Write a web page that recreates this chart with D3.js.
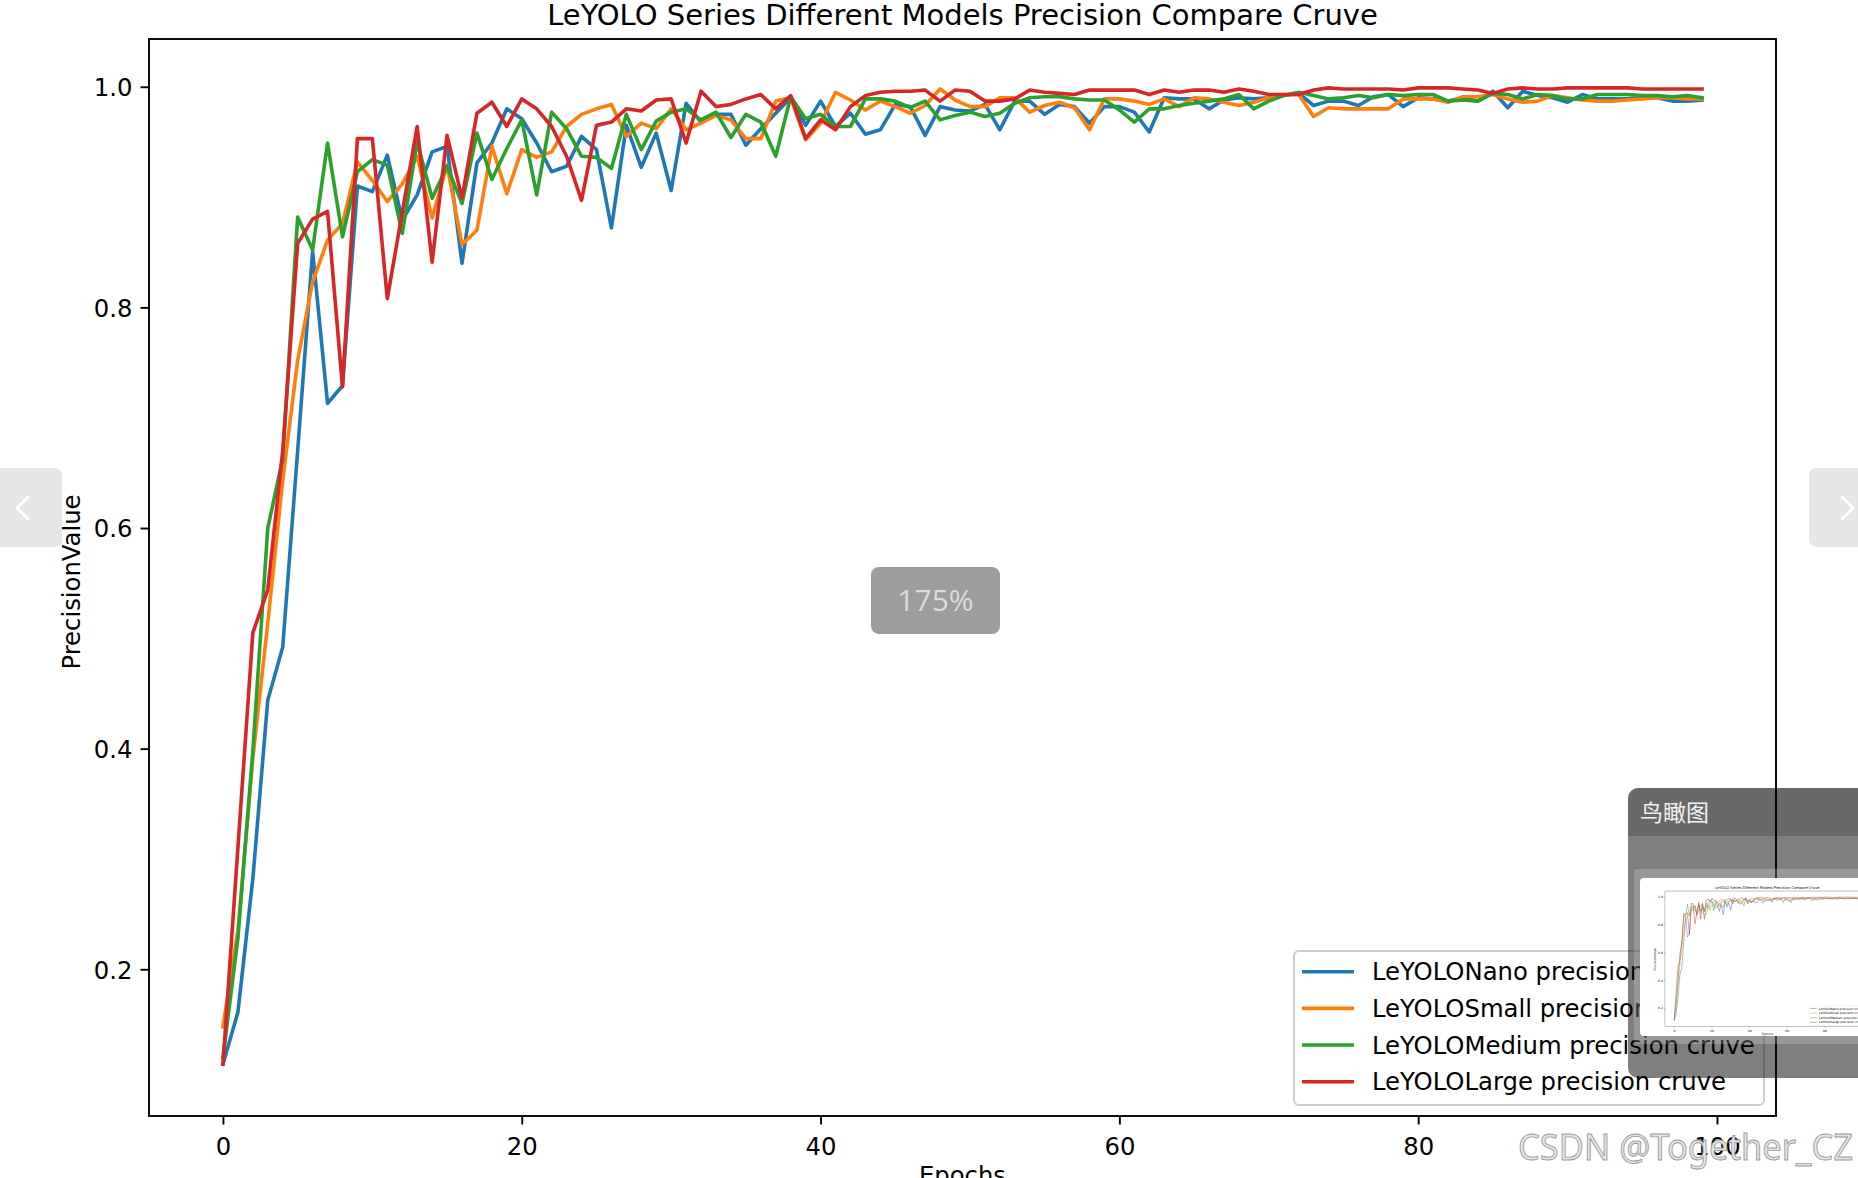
<!DOCTYPE html>
<html><head><meta charset="utf-8">
<script src="https://cdn.jsdelivr.net/npm/d3@7"></script>
<style>html,body{margin:0;padding:0;background:#fff;overflow:hidden}svg{display:block}</style>
</head><body>
<svg id="c" width="1858" height="1178"></svg>
<script>
// ---------------- data ----------------
const titleText = "LeYOLO Series Different Models Precision Compare Cruve";
const xLabelText = "Epochs";
const yLabelText = "PrecisionValue";
const seriesNames = [
  "LeYOLONano precision cruve",
  "LeYOLOSmall precision cruve",
  "LeYOLOMedium precision cruve",
  "LeYOLOLarge precision cruve"
];
const seriesColors = ["#1f77b4", "#ff7f0e", "#2ca02c", "#d62728"];
const xTicks = [0, 20, 40, 60, 80, 100];
const yTicks = [0.2, 0.4, 0.6, 0.8, 1.0];
const yTickLabels = ["0.2", "0.4", "0.6", "0.8", "1.0"];

const nanoPrecision = [0.114,0.161,0.282,0.444,0.492,0.670,0.851,0.713,0.729,0.910,
  0.905,0.938,0.879,0.902,0.941,0.946,0.840,0.931,0.949,0.980,
  0.971,0.949,0.923,0.928,0.955,0.943,0.872,0.965,0.927,0.958,
  0.906,0.985,0.968,0.975,0.975,0.947,0.962,0.976,0.990,0.965,
  0.987,0.964,0.976,0.957,0.961,0.984,0.982,0.956,0.982,0.979,
  0.978,0.984,0.961,0.987,0.987,0.975,0.984,0.982,0.967,0.982,
  0.982,0.977,0.959,0.990,0.989,0.989,0.980,0.988,0.990,0.989,
  0.990,0.992,0.994,0.983,0.987,0.987,0.983,0.991,0.993,0.982,
  0.990,0.989,0.987,0.990,0.987,0.996,0.981,0.996,0.992,0.990,
  0.986,0.993,0.989,0.989,0.989,0.990,0.990,0.987,0.987,0.988];
const smallPrecision = [0.148,0.235,0.391,0.514,0.643,0.752,0.823,0.861,0.876,0.932,
  0.915,0.896,0.912,0.937,0.881,0.929,0.857,0.870,0.946,0.903,
  0.943,0.936,0.941,0.964,0.975,0.980,0.984,0.955,0.967,0.962,
  0.980,0.961,0.967,0.974,0.970,0.953,0.953,0.987,0.990,0.952,
  0.967,0.995,0.988,0.979,0.987,0.982,0.976,0.983,0.998,0.988,
  0.982,0.982,0.990,0.990,0.977,0.983,0.986,0.981,0.961,0.989,
  0.989,0.987,0.984,0.989,0.982,0.990,0.989,0.986,0.983,0.986,
  0.990,0.993,0.993,0.973,0.981,0.980,0.980,0.980,0.980,0.989,
  0.989,0.989,0.986,0.991,0.991,0.993,0.989,0.986,0.987,0.992,
  0.990,0.988,0.987,0.987,0.988,0.989,0.990,0.990,0.989,0.989];
const mediumPrecision = [0.120,0.228,0.398,0.600,0.663,0.882,0.852,0.949,0.864,0.923,
  0.934,0.929,0.867,0.950,0.899,0.928,0.894,0.958,0.916,0.944,
  0.970,0.902,0.977,0.962,0.937,0.936,0.926,0.975,0.943,0.969,
  0.977,0.980,0.970,0.977,0.954,0.975,0.968,0.937,0.991,0.971,
  0.975,0.964,0.964,0.989,0.989,0.987,0.981,0.987,0.970,0.974,
  0.977,0.973,0.976,0.985,0.990,0.991,0.991,0.989,0.988,0.988,
  0.979,0.968,0.980,0.980,0.983,0.985,0.987,0.989,0.993,0.980,
  0.987,0.992,0.995,0.992,0.989,0.990,0.992,0.990,0.993,0.992,
  0.993,0.993,0.987,0.988,0.987,0.994,0.993,0.989,0.993,0.992,
  0.989,0.989,0.993,0.993,0.993,0.992,0.992,0.991,0.992,0.990];
const largePrecision = [0.114,0.310,0.505,0.544,0.670,0.858,0.880,0.887,0.728,0.953,
  0.953,0.808,0.886,0.964,0.841,0.956,0.899,0.976,0.986,0.964,
  0.989,0.980,0.964,0.937,0.897,0.965,0.968,0.980,0.978,0.988,
  0.989,0.949,0.996,0.982,0.984,0.989,0.993,0.980,0.992,0.953,
  0.970,0.961,0.982,0.992,0.995,0.996,0.996,0.997,0.987,0.997,
  0.996,0.987,0.987,0.989,0.997,0.995,0.994,0.993,0.997,0.997,
  0.997,0.997,0.993,0.997,0.995,0.997,0.997,0.995,0.998,0.996,
  0.993,0.993,0.993,0.997,0.999,0.998,0.998,0.998,0.998,0.997,
  0.999,0.999,0.999,0.998,0.997,0.994,0.998,0.999,0.998,0.998,
  0.999,0.999,0.999,0.999,0.999,0.998,0.998,0.998,0.998,0.998];
const allSeries = [nanoPrecision, smallPrecision, mediumPrecision, largePrecision];
const epochs = nanoPrecision.map((_, i) => i);

// ---------------- chart ----------------
const FONT = "'DejaVu Sans', sans-serif";
const AX = {left: 149, right: 1776, top: 39, bottom: 1116};
const svg = d3.select("#c");
const defs = svg.append("defs");

function drawChart(g, prefix) {
  const x = d3.scaleLinear().domain([-4.95, 103.95]).range([AX.left, AX.right]);
  const y = d3.scaleLinear().domain([0.0670, 1.0433]).range([AX.bottom, AX.top]);

  g.append("rect").attr("x", 0).attr("y", 0).attr("width", 1858).attr("height", 1178).attr("fill", "#fff");

  defs.append("clipPath").attr("id", prefix + "axclip")
    .append("rect").attr("x", AX.left).attr("y", AX.top)
    .attr("width", AX.right - AX.left).attr("height", AX.bottom - AX.top);

  // lines
  const line = d3.line().x((d, i) => x(epochs[i])).y(d => y(d));
  const lg = g.append("g").attr("clip-path", `url(#${prefix}axclip)`);
  allSeries.forEach((s, k) => {
    lg.append("path").attr("d", line(s)).attr("fill", "none")
      .attr("stroke", seriesColors[k]).attr("stroke-width", 3.6)
      .attr("stroke-linejoin", "round").attr("stroke-linecap", "square");
  });

  // axes
  const xa = g.append("g").attr("transform", `translate(0,${AX.bottom})`)
    .call(d3.axisBottom(x).tickValues(xTicks).tickFormat(d3.format("d")).tickSize(8.5).tickSizeOuter(0).tickPadding(6));
  const ya = g.append("g").attr("transform", `translate(${AX.left},0)`)
    .call(d3.axisLeft(y).tickValues(yTicks).tickFormat((d, i) => yTickLabels[i]).tickSize(8.5).tickSizeOuter(0).tickPadding(8));
  [xa, ya].forEach(a => {
    a.select(".domain").remove();
    a.selectAll(".tick line").attr("stroke", "#000").attr("stroke-width", 1.9);
    a.selectAll(".tick text").attr("font-family", FONT).attr("font-size", 24.3).attr("fill", "#000");
  });
  xa.selectAll(".tick text").attr("dy", null).attr("y", 39);
  ya.selectAll(".tick text").attr("dy", "0.36em");

  // spines
  g.append("rect").attr("x", AX.left).attr("y", AX.top)
    .attr("width", AX.right - AX.left).attr("height", AX.bottom - AX.top)
    .attr("fill", "none").attr("stroke", "#000").attr("stroke-width", 1.9);

  // title & labels
  g.append("text").attr("x", (AX.left + AX.right) / 2).attr("y", 25)
    .attr("text-anchor", "middle").attr("font-family", FONT).attr("font-size", 29)
    .attr("fill", "#000").text(titleText);
  g.append("text").attr("x", (AX.left + AX.right) / 2).attr("y", 1184)
    .attr("text-anchor", "middle").attr("font-family", FONT).attr("font-size", 24.3)
    .attr("fill", "#000").text(xLabelText);
  g.append("text").attr("transform", "translate(80,582) rotate(-90)")
    .attr("text-anchor", "middle").attr("font-family", FONT).attr("font-size", 24.3)
    .attr("fill", "#000").text(yLabelText);

  // legend
  const leg = g.append("g");
  leg.append("rect").attr("x", 1294).attr("y", 951).attr("width", 470).attr("height", 154)
    .attr("rx", 5).attr("fill", "rgba(255,255,255,0.8)").attr("stroke", "#cccccc").attr("stroke-width", 1.9);
  const rowY = d3.scaleLinear().domain([0, 3]).range([971.7, 1081.7]);
  seriesNames.forEach((name, k) => {
    leg.append("line").attr("x1", 1302).attr("x2", 1354).attr("y1", rowY(k)).attr("y2", rowY(k))
      .attr("stroke", seriesColors[k]).attr("stroke-width", 3.6);
    leg.append("text").attr("x", 1372).attr("y", rowY(k) + 8.5)
      .attr("font-family", FONT).attr("font-size", 24.3).attr("fill", "#000").text(name);
  });
}

drawChart(svg.append("g"), "m_");

// ---------------- viewer overlays ----------------
// navigation buttons
svg.append("path").attr("d", "M0,468 H54 Q62,468 62,476 V539 Q62,547 54,547 H0 Z").attr("fill", "#e6e6e6");
svg.append("polyline").attr("points", "28,497 17,508 28,519").attr("fill", "none")
  .attr("stroke", "#fff").attr("stroke-width", 2.5).attr("stroke-linecap", "round").attr("stroke-linejoin", "round");
svg.append("path").attr("d", "M1858,468 H1817 Q1809,468 1809,476 V539 Q1809,547 1817,547 H1858 Z").attr("fill", "#e6e6e6");
svg.append("polyline").attr("points", "1842,497 1853,508 1842,519").attr("fill", "none")
  .attr("stroke", "#fff").attr("stroke-width", 2.5).attr("stroke-linecap", "round").attr("stroke-linejoin", "round");

// zoom badge
svg.append("rect").attr("x", 871).attr("y", 567).attr("width", 129).attr("height", 67).attr("rx", 8).attr("fill", "#9d9d9e");
svg.append("text").attr("x", 935.5).attr("y", 611).attr("text-anchor", "middle")
  .attr("font-family", "'Open Sans', 'Noto Sans', sans-serif").attr("font-size", 30).attr("fill", "#dcdcdc").text("175%");

// bird's-eye panel
defs.append("clipPath").attr("id", "panelclip").append("rect")
  .attr("x", 1628).attr("y", 788).attr("width", 300).attr("height", 290).attr("rx", 10);
const panel = svg.append("g").attr("clip-path", "url(#panelclip)");
panel.append("rect").attr("x", 1628).attr("y", 788).attr("width", 300).attr("height", 290).attr("fill", "rgba(0,0,0,0.5)");
panel.append("rect").attr("x", 1628).attr("y", 788).attr("width", 300).attr("height", 48).attr("fill", "rgba(0,0,0,0.17)");
panel.append("text").attr("x", 1640).attr("y", 821).attr("font-family", "'Noto Sans CJK SC', sans-serif")
  .attr("font-size", 23).attr("fill", "#f2f2f2").text("鸟瞰图");
panel.append("rect").attr("x", 1634).attr("y", 869).attr("width", 300).attr("height", 175).attr("rx", 4).attr("fill", "rgba(255,255,255,0.2)");
defs.append("clipPath").attr("id", "thumbclip").append("rect")
  .attr("x", 1640).attr("y", 878).attr("width", 240).attr("height", 158).attr("rx", 4);
const thumbOuter = panel.append("g").attr("clip-path", "url(#thumbclip)");
thumbOuter.append("rect").attr("x", 1640).attr("y", 878).attr("width", 240).attr("height", 158).attr("fill", "#fff");
const thumb = thumbOuter.append("g").attr("transform", "translate(1646.2,886.1) scale(0.126)");
drawChart(thumb, "t_");

// watermark
svg.append("text").attr("x", 1853).attr("y", 1160).attr("text-anchor", "end")
  .attr("font-family", "'Noto Sans', sans-serif").attr("font-size", 36)
  .attr("fill", "#e4e4e4").attr("stroke", "#9a9a9a").attr("stroke-width", 0.9)
  .attr("textLength", 335).attr("lengthAdjust", "spacingAndGlyphs")
  .text("CSDN @Together_CZ");
</script>
</body></html>
